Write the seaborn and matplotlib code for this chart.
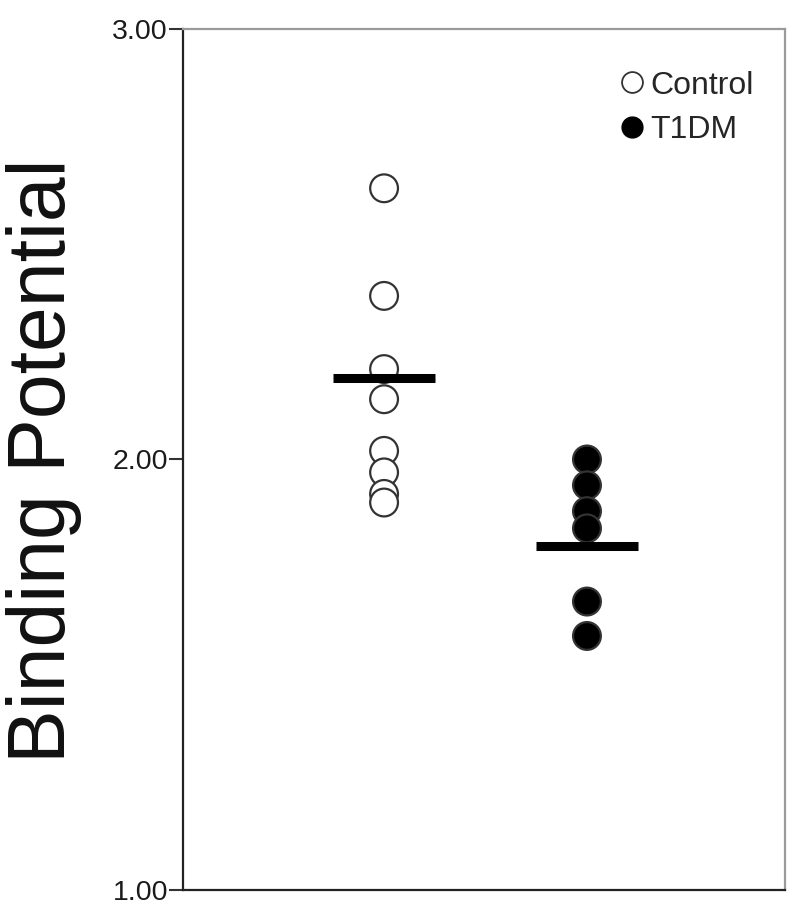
import matplotlib
matplotlib.use("Agg")
import matplotlib.pyplot as plt
from matplotlib.lines import Line2D
import pandas as pd
import seaborn as sns

GROUPS = ["Control", "T1DM"]
CONTROL_BP = [2.63, 2.38, 2.21, 2.14, 2.02, 1.97, 1.92, 1.90]
T1DM_BP = [2.00, 1.94, 1.88, 1.84, 1.67, 1.59]
GROUP_MEANS = [2.19, 1.80]
Y_TICKS = [1.0, 2.0, 3.0]
Y_TICKLABELS = ["1.00", "2.00", "3.00"]

sns.set_theme(style="white")
plt.rcParams["font.family"] = ["Liberation Sans", "DejaVu Sans"]

df = pd.DataFrame({
    "group": ["Control"] * len(CONTROL_BP) + ["T1DM"] * len(T1DM_BP),
    "bp": CONTROL_BP + T1DM_BP,
})

fig = plt.figure(figsize=(8, 9.21), dpi=100)
ax = fig.add_axes([0.229, 0.0337, 0.752, 0.9348])

palette = {"Control": "white", "T1DM": "black"}
sns.stripplot(
    data=df, x="group", y="bp", hue="group", order=GROUPS, palette=palette,
    jitter=False, size=20, linewidth=1.6, edgecolor="#333333",
    legend=False, ax=ax, zorder=3,
)

# group mean bars
for i, m in enumerate(GROUP_MEANS):
    ax.hlines(m, i - 0.25, i + 0.25, color="black", lw=6.5, zorder=4)

ax.set_xlim(-0.99, 1.975)
ax.set_ylim(1.0, 3.0)
ax.set_xticks([])
ax.set_xlabel("")
ax.set_yticks(Y_TICKS)
ax.set_yticklabels(Y_TICKLABELS, fontsize=20.5, color="#1a1a1a")
ax.tick_params(axis="y", direction="out", length=10, width=1.5, color="#333333", pad=1, left=True)
ax.set_ylabel("Binding Potential", fontsize=58, color="#111111")
ax.yaxis.set_label_coords(-0.168, 0.498)

for side in ["left", "bottom"]:
    ax.spines[side].set_color("#222222")
    ax.spines[side].set_linewidth(1.6)
for side in ["top", "right"]:
    ax.spines[side].set_color("#9a9a9a")
    ax.spines[side].set_linewidth(1.6)

handles = [
    Line2D([], [], ls="none", marker="o", markersize=15, markerfacecolor="white",
           markeredgecolor="#333333", markeredgewidth=1.3, label="Control"),
    Line2D([], [], ls="none", marker="o", markersize=15, markerfacecolor="black",
           markeredgecolor="black", label="T1DM"),
]
ax.legend(handles=handles, loc="upper left", bbox_to_anchor=(0.683, 0.985),
          frameon=False, fontsize=23, handlelength=0.6, handletextpad=0.25,
          labelspacing=0.45)

fig.savefig("out.png", dpi=100)
